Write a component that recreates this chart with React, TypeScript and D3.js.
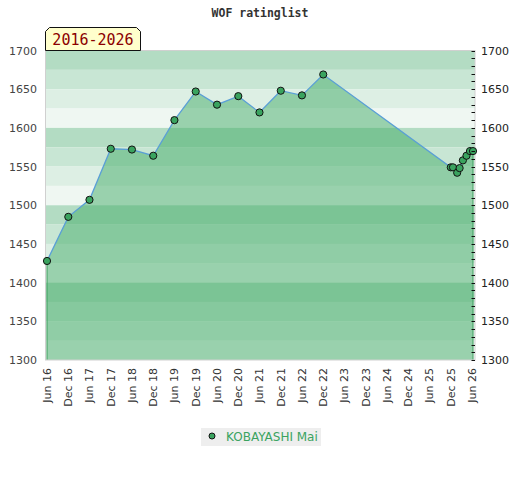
import React from 'react'
import { scaleTime, scaleLinear, area, line, range, timeFormat, timeParse } from 'd3';

// rating history
const dates = [
    '2016-06-01', '2016-12-01', '2017-06-01', '2017-12-01', '2018-06-01', '2018-12-01',
    '2019-06-01', '2019-12-01', '2020-06-01', '2020-12-01', '2021-06-01', '2021-12-01',
    '2022-06-01', '2022-12-01', '2025-12-01', '2025-12-20', '2026-01-25', '2026-02-15',
    '2026-03-15', '2026-04-15', '2026-05-15', '2026-06-10',
];
const ratings = [
    1428, 1485, 1507, 1573, 1572, 1564,
    1610, 1647, 1630, 1641, 1620, 1648,
    1642, 1669, 1549, 1549, 1542, 1548,
    1558, 1564, 1570, 1570,
];
const xTicks = [
    '2016-06-01', '2016-12-01', '2017-06-01', '2017-12-01', '2018-06-01', '2018-12-01',
    '2019-06-01', '2019-12-01', '2020-06-01', '2020-12-01', '2021-06-01', '2021-12-01',
    '2022-06-01', '2022-12-01', '2023-06-01', '2023-12-01', '2024-06-01', '2024-12-01',
    '2025-06-01', '2025-12-01', '2026-06-01',
];
const yTicks = [1300, 1350, 1400, 1450, 1500, 1550, 1600, 1650, 1700];
const title = 'WOF ratinglist';
const periodLabel = '2016-2026';
const playerName = 'KOBAYASHI Mai';

const parse = timeParse('%Y-%m-%d');
const fmt = timeFormat('%b %y');

const App = () => {
    const width = 520;
    const height = 480;
    const plot = { left: 45.5, right: 475, top: 50.5, bottom: 360 };

    const points = dates.map((d, i) => ({ date: parse(d) as Date, value: ratings[i] }));

    const x = scaleTime()
        .domain([points[0].date, points[points.length - 1].date])
        .range([47, 473]);

    const y = scaleLinear()
        .domain([1300, 1700])
        .range([plot.bottom, plot.top]);

    const bandColors = ['#b3dcc3', '#c8e6d4', '#ddefe4', '#eff7f2'];
    const bands = range(1700, 1300, -25);

    const areaGen = area<{ date: Date, value: number }>()
        .x(d => x(d.date))
        .y0(y(1300))
        .y1(d => y(d.value));

    const lineGen = line<{ date: Date, value: number }>()
        .x(d => x(d.date))
        .y(d => y(d.value));

    const first = points[0];
    const last = points[points.length - 1];

    const font = 'DejaVu Sans, sans-serif';

    return (
        <svg width={width} height={height} style={{ position: 'absolute', left: 0, top: 0, background: '#fff' }}>
            <text x={260} y={17} textAnchor='middle' fontFamily='DejaVu Sans Mono, monospace' fontWeight='bold' fontSize={11.5} fill='#333'>{title}</text>

            {/* striped background */}
            {bands.map((b, i) => (
                <rect key={b} x={plot.left} y={y(b)} width={plot.right - plot.left} height={y(b - 25) - y(b)} fill={bandColors[i % 4]} />
            ))}

            <path d={areaGen(points) || ''} fill='rgba(67,172,103,0.5)' stroke='none' />
            <line x1={x(first.date)} x2={x(first.date)} y1={y(first.value)} y2={y(1300)} stroke='#3f9f5f' strokeWidth={1} />
            <line x1={x(last.date)} x2={x(last.date)} y1={y(last.value)} y2={y(1300)} stroke='#3f9f5f' strokeWidth={1} />

            {/* plot frame */}
            <rect x={plot.left} y={plot.top} width={plot.right - plot.left} height={plot.bottom - plot.top} fill='none' stroke='#d0d0d0' strokeWidth={1} />

            <path d={lineGen(points) || ''} fill='none' stroke='#5a9fd6' strokeWidth={1.3} />
            {points.map((p, i) => (
                <circle key={i} cx={x(p.date)} cy={y(p.value)} r={3.6} fill='#3aa35f' stroke='#111' strokeWidth={1} />
            ))}

            {/* right minor ticks */}
            {range(1300, 1701, 10).map(v => (
                <line key={v} x1={471.5} x2={475} y1={Math.round(y(v)) + 0.5} y2={Math.round(y(v)) + 0.5} stroke='#111' strokeWidth={1} />
            ))}

            {yTicks.map(v => (
                <g key={v}>
                    <text x={37} y={y(v) + 4} textAnchor='end' fontFamily={font} fontSize={11} fill='#444'>{v}</text>
                    <text x={481} y={y(v) + 4} textAnchor='start' fontFamily={font} fontSize={11} fill='#222'>{v}</text>
                </g>
            ))}

            {xTicks.map(t => {
                const d = parse(t) as Date;
                return (
                    <text key={t} transform={`translate(${x(d) + 4}, 368) rotate(-90)`} textAnchor='end' fontFamily={font} fontSize={11} fill='#333'>{fmt(d)}</text>
                );
            })}

            {/* period label */}
            <path d='M45.5,50.5 V31.5 L49.5,27.5 H136.5 L140.5,31.5 V50.5 Z' fill='#ffffcc' stroke='#111' strokeWidth={1} />
            <text x={93} y={45} textAnchor='middle' fontFamily='DejaVu Sans Mono, monospace' fontSize={15} fill='#8b0000'>{periodLabel}</text>

            {/* legend */}
            <rect x={201} y={428} width={120} height={18} fill='#eeeeee' />
            <circle cx={212} cy={436} r={3} fill='#3aa35f' stroke='#111' strokeWidth={1} />
            <text x={226} y={441} fontFamily={font} fontSize={12} fill='#3aa35f'>{playerName}</text>
        </svg>
    )
}

export default App
